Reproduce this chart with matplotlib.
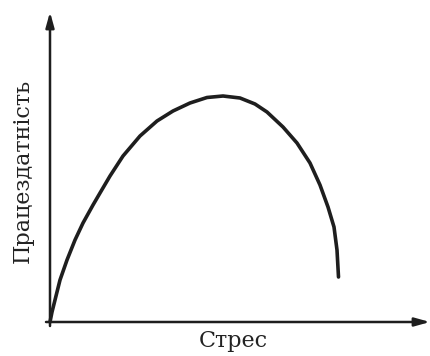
import matplotlib
matplotlib.use("Agg")
import matplotlib.pyplot as plt

# Curve data (stress vs performance), arbitrary units
stress = [0, 2, 5, 10, 17, 25, 33, 43, 50, 60, 73, 90, 107, 123, 140, 157, 173,
          190, 205, 217, 233, 247, 260, 270, 278, 284, 287, 288.5]
performance = [0, 10, 22, 42, 62, 82, 99, 117, 129, 146, 166, 186, 201, 211, 219, 224.5, 226,
               224, 218, 210, 195, 179, 159, 137, 115, 95, 72, 45]
x_label = "Стрес"
y_label = "Працездатність"

fig = plt.figure(figsize=(4.3, 3.56), dpi=100)
ax = fig.add_axes([0, 0, 1, 1])
ax.set_xlim(-50, 380)
ax.set_ylim(-34, 322)
ax.axis("off")

ax.plot(stress, performance, color="#1e1e1e", lw=2.6, solid_capstyle="round",
        solid_joinstyle="round")

arrow = dict(arrowstyle="-|>,head_length=0.9,head_width=0.25", color="#1e1e1e", lw=1.8,
             shrinkA=0, shrinkB=0)
ax.annotate("", xy=(380, 0), xytext=(-4, 0), arrowprops=arrow)
ax.annotate("", xy=(0, 310), xytext=(0, -4), arrowprops=arrow)

ax.text(183, -19, x_label, ha="center", va="center", fontsize=16,
        family="DejaVu Serif", color="#222222")
ax.text(-27, 151, y_label, ha="center", va="center", rotation=90, fontsize=16,
        family="DejaVu Serif", color="#222222")

fig.savefig("out.png", dpi=100)
